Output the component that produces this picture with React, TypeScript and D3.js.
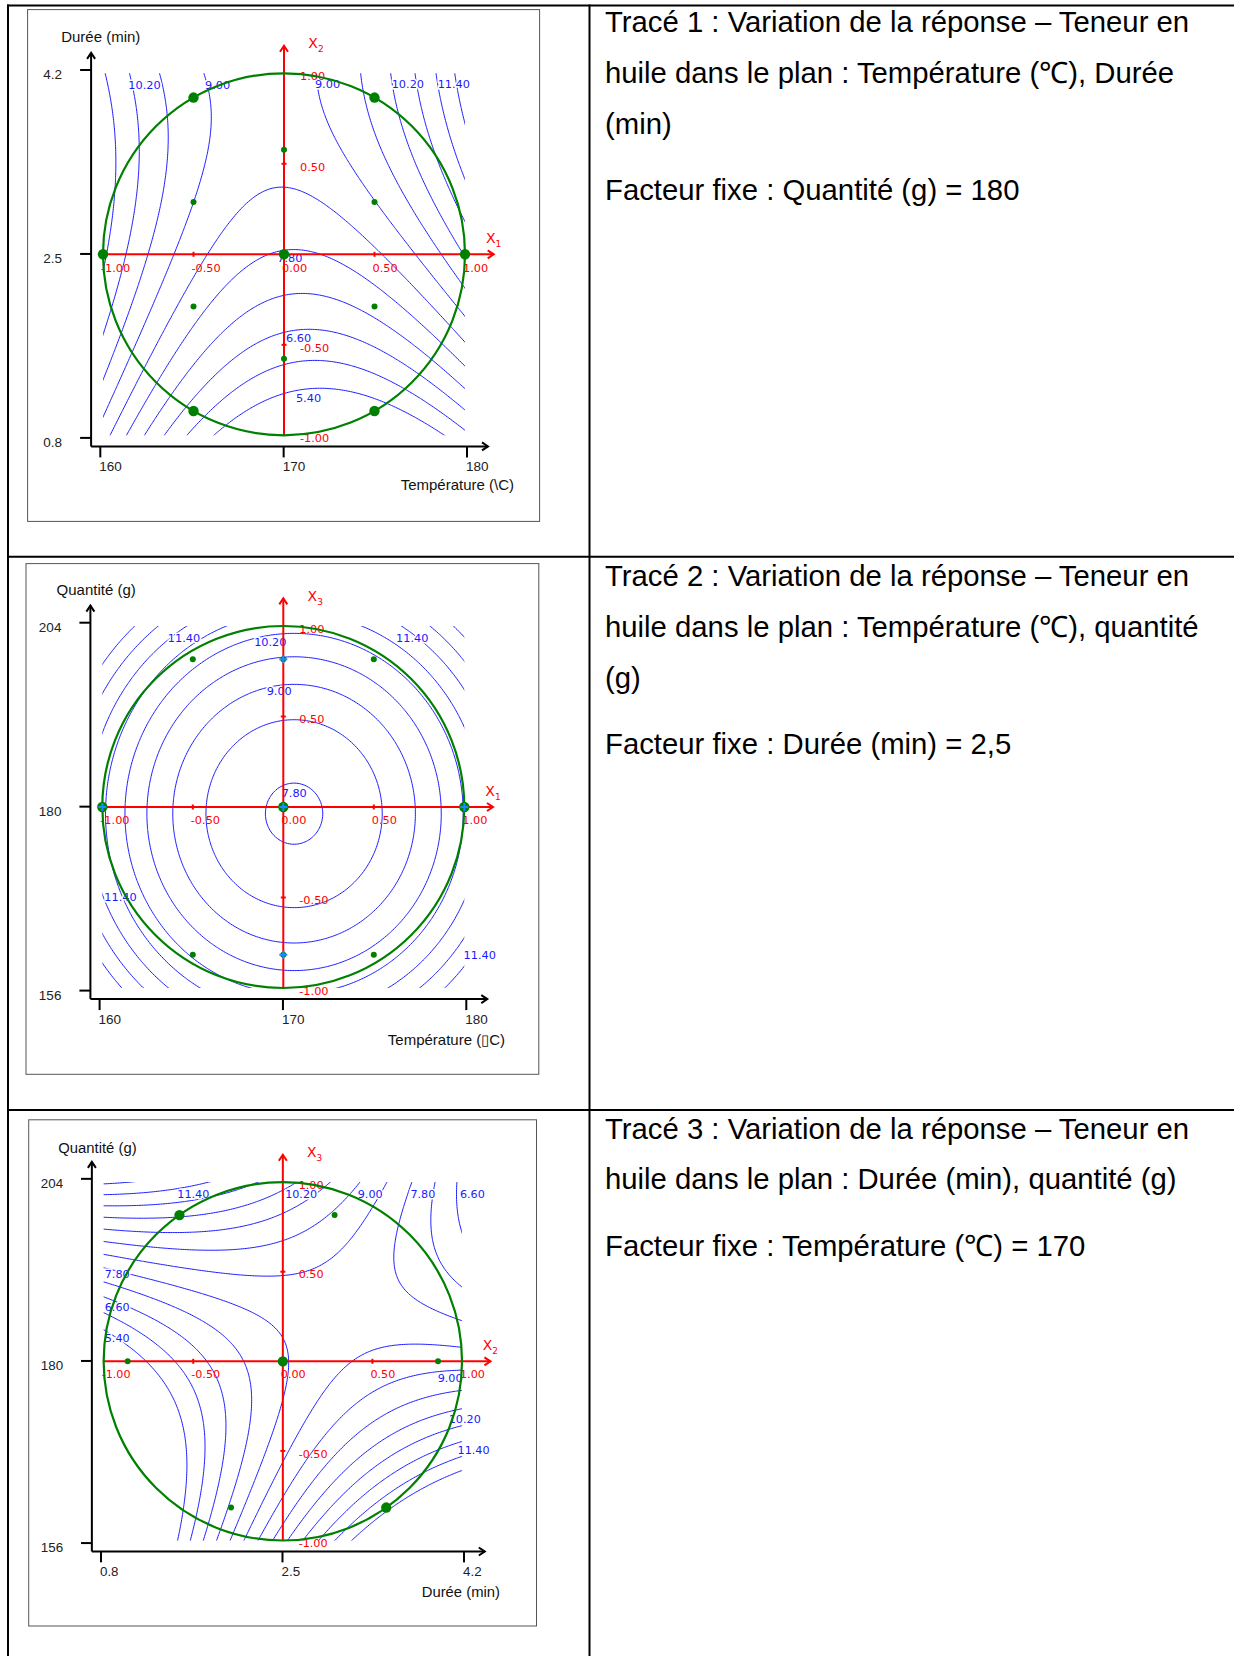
import React from "react";
import * as d3 from "d3";

// Fitted quadratic response-surface model, coded variables
// X1 = Température, X2 = Durée, X3 = Quantité (coefficients)
const coefficientTerms = ["b0", "b1", "b2", "b3", "b11", "b22", "b33", "b12", "b13", "b23"];
const coefficientValues = [7.74, -0.31, 2.19, 0.16, 2.83, -1.15, 2.49, 1.08, 0.0, -5.0];

const contourLevels = [5.4, 6.0, 6.6, 7.2, 7.8, 8.4, 9.0, 9.6, 10.2, 10.8, 11.4, 12.0, 12.6];

const codedAxisValues = [-1, -0.5, 0, 0.5, 1];
const codedAxisLabels = ["-1.00", "-0.50", "0.00", "0.50", "1.00"];

const temperatureTicks = [160, 170, 180];
const dureeTicks = [0.8, 2.5, 4.2];
const quantiteTicks = [156, 180, 204];

// design points [coded horizontal, coded vertical]
const plot1PointsInPlane = [[-1, 0], [0, 0], [1, 0], [-0.5, 0.866], [0.5, 0.866], [-0.5, -0.866], [0.5, -0.866]];
const plot1PointsProjected = [[0, 0.577], [0, -0.577], [-0.5, 0.289], [0.5, 0.289], [-0.5, -0.289], [0.5, -0.289]];
const plot2PointsInPlane = [[-1, 0], [0, 0], [1, 0]];
const plot2PointsProjected = [[-0.5, 0.816], [0, 0.816], [0.5, 0.816], [-0.5, -0.816], [0, -0.816], [0.5, -0.816]];
const plot2CrossPoints = [[-1, 0], [0, 0], [1, 0], [0, 0.816], [0, -0.816]];
const plot3PointsInPlane = [[-0.577, 0.816], [0, 0], [0.577, -0.816]];
const plot3PointsProjected = [[-0.866, 0], [0.866, 0], [0.289, 0.816], [-0.289, -0.816]];

// contour labels: [text, coded horizontal, coded vertical]
const plot1Labels: [string, number, number][] = [
  ["10.20", -0.86, 0.914], ["9.00", -0.436, 0.914], ["9.00", 0.171, 0.918],
  ["10.20", 0.595, 0.918], ["11.40", 0.849, 0.918], ["7.80", -0.037, -0.041],
  ["6.60", 0.011, -0.487], ["5.40", 0.066, -0.815],
];
const plot2Labels: [string, number, number][] = [
  ["11.40", -0.638, 0.911], ["10.20", -0.161, 0.889], ["11.40", 0.623, 0.911],
  ["9.00", -0.092, 0.617], ["7.80", -0.009, 0.057], ["11.40", -0.989, -0.519],
  ["11.40", 0.996, -0.842],
];
const plot3Labels: [string, number, number][] = [
  ["11.40", -0.589, 0.909], ["10.20", 0.013, 0.909], ["9.00", 0.418, 0.909],
  ["7.80", 0.712, 0.909], ["6.60", 0.988, 0.909], ["7.80", -0.994, 0.463],
  ["6.60", -0.994, 0.283], ["5.40", -0.994, 0.11], ["9.00", 0.864, -0.113],
  ["10.20", 0.926, -0.345], ["11.40", 0.975, -0.518],
];

const row1Text = [
  "Tracé 1 : Variation de la réponse – Teneur en",
  "huile dans le plan : Température (℃), Durée",
  "(min)",
  "Facteur fixe : Quantité (g) = 180",
];
const row2Text = [
  "Tracé 2 : Variation de la réponse – Teneur en",
  "huile dans le plan : Température (℃), quantité",
  "(g)",
  "Facteur fixe : Durée (min) = 2,5",
];
const row3Text = [
  "Tracé 3 : Variation de la réponse – Teneur en",
  "huile dans le plan : Durée (min), quantité (g)",
  "Facteur fixe : Température (℃) = 170",
];

function coef(name: string) {
  return coefficientValues[coefficientTerms.indexOf(name)];
}
function response(x: number[]) {
  const [x1, x2, x3] = x;
  return (
    coef("b0") + coef("b1") * x1 + coef("b2") * x2 + coef("b3") * x3 +
    coef("b11") * x1 * x1 + coef("b22") * x2 * x2 + coef("b33") * x3 * x3 +
    coef("b12") * x1 * x2 + coef("b13") * x1 * x3 + coef("b23") * x2 * x3
  );
}

// layout (unscaled, relative to panel origin)
const L = {
  yAxisX: 63.5, yAxisTop: 43.3, xAxisY: 436.8, xAxisRight: 460.4,
  cx: 256.4, cy: 244.7, R: 181,
  xTickLo: 72.7, xTickHi: 439.4, yTickHi: 60.4, yTickLo: 428.3,
};

const BLUE = "#1a1aff";
const RED = "#ff0000";
const GREEN = "#008000";

type PanelCfg = {
  id: string;
  frame: [number, number, number, number];
  origin: [number, number];
  s: number;
  hVar: number;
  vVar: number;
  xDomain: [number, number];
  xTicks: number[];
  yDomain: [number, number];
  yTicks: number[];
  xTitle: string;
  yTitle: string;
  xTitleRight: number;
  xTitleBase: number;
  yTitleLeft: number;
  yTitleBase: number;
  labels: [string, number, number][];
  bigPts: number[][];
  smallPts: number[][];
  crossPts: number[][];
};

function Panel({ cfg }: { cfg: PanelCfg }) {
  const { s } = cfg;
  const X = (v: number) => cfg.origin[0] + s * v;
  const Y = (v: number) => cfg.origin[1] + s * v;
  const cx = X(L.cx), cy = Y(L.cy), R = s * L.R;
  const cu = d3.scaleLinear().domain([-1, 1]).range([cx - R, cx + R]);
  const cv = d3.scaleLinear().domain([-1, 1]).range([cy + R, cy - R]);
  const rx = d3.scaleLinear().domain(cfg.xDomain).range([X(L.xTickLo), X(L.xTickHi)]);
  const ry = d3.scaleLinear().domain(cfg.yDomain).range([Y(L.yTickLo), Y(L.yTickHi)]);

  const N = 221, EXT = 1.05;
  const step = (2 * EXT) / (N - 1);
  const values = new Array(N * N);
  for (let j = 0; j < N; j++) {
    for (let i = 0; i < N; i++) {
      const c = [0, 0, 0];
      c[cfg.hVar] = -EXT + i * step;
      c[cfg.vVar] = EXT - j * step;
      values[j * N + i] = response(c);
    }
  }
  const polys = d3.contours().size([N, N]).thresholds(contourLevels)(values);
  const gx = (g: number) => cu(-EXT + g * step);
  const gy = (g: number) => cv(EXT - g * step);
  const paths = polys.map((mp) =>
    mp.coordinates
      .map((poly) =>
        poly
          .map((ring) => "M" + ring.map((p) => `${gx(p[0]).toFixed(2)},${gy(p[1]).toFixed(2)}`).join("L"))
          .join("")
      )
      .join("")
  );

  const yAx = X(L.yAxisX), xAy = Y(L.xAxisY);
  const tickFont = { fontFamily: "Liberation Sans, Arial, sans-serif", fontSize: 13.5 * s, fill: "#222" };
  const titleFont = { fontFamily: "Liberation Sans, Arial, sans-serif", fontSize: 15 * s, fill: "#111" };
  const blueFont = { fontFamily: "DejaVu Sans, Verdana, sans-serif", fontSize: 11.3 * s };
  const redFont = { fontFamily: "DejaVu Sans, Verdana, sans-serif", fontSize: 11.3 * s };
  const hTip = cx + s * 209.7, vTip = cy - s * 208.6;
  const hName = ["1", "2", "3"][cfg.hVar];
  const vName = ["1", "2", "3"][cfg.vVar];

  return (
    <g>
      <rect x={cfg.frame[0]} y={cfg.frame[1]} width={cfg.frame[2]} height={cfg.frame[3]} fill="#fff" stroke="#555" strokeWidth={1} />
      <defs>
        <clipPath id={`clip-${cfg.id}`}>
          <rect x={cx - R} y={cy - R} width={2 * R} height={2 * R} />
        </clipPath>
      </defs>
      <g clipPath={`url(#clip-${cfg.id})`}>
        {paths.map((d, k) => (
          <path key={k} d={d} fill="none" stroke={BLUE} strokeWidth={1} />
        ))}
      </g>
      {cfg.labels.map(([t, u, v], k) => (
        <text key={k} x={cu(u)} y={cv(v)} {...blueFont} fill={BLUE} stroke="#fff" strokeWidth={3} paintOrder="stroke">
          {t}
        </text>
      ))}

      {/* black axes */}
      <g stroke="#000" strokeWidth={2} fill="none">
        <line x1={yAx} y1={xAy} x2={yAx} y2={Y(L.yAxisTop)} />
        <path d={`M${yAx - 4},${Y(L.yAxisTop) + 6}L${yAx},${Y(L.yAxisTop)}L${yAx + 4},${Y(L.yAxisTop) + 6}`} />
        <line x1={yAx} y1={xAy} x2={X(L.xAxisRight)} y2={xAy} />
        <path d={`M${X(L.xAxisRight) - 6},${xAy - 4}L${X(L.xAxisRight)},${xAy}L${X(L.xAxisRight) - 6},${xAy + 4}`} />
        {cfg.yTicks.map((t) => (
          <line key={t} x1={yAx - 11 * s} y1={ry(t)} x2={yAx} y2={ry(t)} />
        ))}
        {cfg.xTicks.map((t) => (
          <line key={t} x1={rx(t)} y1={xAy} x2={rx(t)} y2={xAy + 11 * s} />
        ))}
      </g>
      {cfg.yTicks.map((t) => (
        <text key={t} x={X(L.yAxisX - 29)} y={ry(t) + 9 * s} textAnchor="end" {...tickFont}>
          {String(t)}
        </text>
      ))}
      {cfg.xTicks.map((t) => (
        <text key={t} x={rx(t) - 1} y={Y(L.xAxisY + 25)} {...tickFont}>
          {String(t)}
        </text>
      ))}
      <text x={X(cfg.xTitleRight)} y={Y(cfg.xTitleBase)} textAnchor="end" {...titleFont}>
        {cfg.xTitle}
      </text>
      <text x={X(cfg.yTitleLeft)} y={Y(cfg.yTitleBase)} {...titleFont}>
        {cfg.yTitle}
      </text>

      {/* red coded axes */}
      <g stroke={RED} strokeWidth={2} fill="none">
        <line x1={cu(-1)} y1={cy} x2={hTip} y2={cy} />
        <path d={`M${hTip - 6},${cy - 4}L${hTip},${cy}L${hTip - 6},${cy + 4}`} />
        <line x1={cx} y1={cv(-1)} x2={cx} y2={vTip} />
        <path d={`M${cx - 4},${vTip + 6}L${cx},${vTip}L${cx + 4},${vTip + 6}`} />
        {[-0.5, 0.5].map((t) => (
          <line key={"h" + t} x1={cu(t)} y1={cy - 2.5} x2={cu(t)} y2={cy + 2.5} />
        ))}
        {[-0.5, 0.5].map((t) => (
          <line key={"v" + t} x1={cx - 2.5} y1={cv(t)} x2={cx + 2.5} y2={cv(t)} />
        ))}
      </g>
      {codedAxisValues.map((t, k) => (
        <text key={"hl" + k} x={cu(t) - 2} y={cy + 17.3 * s} {...redFont} fill={RED}>
          {codedAxisLabels[k]}
        </text>
      ))}
      {codedAxisValues.map((t, k) =>
        t === 0 ? null : (
          <text key={"vl" + k} x={cx + 16 * s} y={cv(t) + 6.8 * s} {...redFont} fill={RED}>
            {codedAxisLabels[k]}
          </text>
        )
      )}
      <text x={cx + 202 * s} y={cy - 11.3 * s} fontFamily="DejaVu Sans, sans-serif" fontSize={14 * s} fill={RED}>
        X<tspan fontSize={9 * s} dy={4}>{hName}</tspan>
      </text>
      <text x={cx + 24.3 * s} y={cy - 206 * s} fontFamily="DejaVu Sans, sans-serif" fontSize={14 * s} fill={RED}>
        X<tspan fontSize={9 * s} dy={4}>{vName}</tspan>
      </text>

      {/* experimental domain and design points */}
      <circle cx={cx} cy={cy} r={R} fill="none" stroke={GREEN} strokeWidth={2.2} />
      {cfg.bigPts.map((p, k) => (
        <circle key={"b" + k} cx={cu(p[0])} cy={cv(p[1])} r={5.2 * s} fill={GREEN} />
      ))}
      {cfg.smallPts.map((p, k) => (
        <circle key={"s" + k} cx={cu(p[0])} cy={cv(p[1])} r={3 * s} fill={GREEN} />
      ))}
      {cfg.crossPts.map((p, k) => (
        <path
          key={"c" + k}
          d={`M${cu(p[0]) - 4},${cv(p[1])}L${cu(p[0]) + 4},${cv(p[1])}M${cu(p[0])},${cv(p[1]) - 4}L${cu(p[0])},${cv(p[1]) + 4}`}
          stroke="#1a8cff"
          strokeWidth={2}
        />
      ))}
    </g>
  );
}

const panels: PanelCfg[] = [
  {
    id: "p1", frame: [27.6, 9.6, 512, 511.8], origin: [27.6, 9.6], s: 1, hVar: 0, vVar: 1,
    xDomain: [160, 180], xTicks: temperatureTicks, yDomain: [0.8, 4.2], yTicks: dureeTicks,
    xTitle: "Température (\\C)", yTitle: "Durée (min)",
    xTitleRight: 486.4, xTitleBase: 480.4, yTitleLeft: 33.6, yTitleBase: 32.5,
    labels: plot1Labels, bigPts: plot1PointsInPlane, smallPts: plot1PointsProjected, crossPts: [],
  },
  {
    id: "p2", frame: [26, 563.6, 512.8, 510.7], origin: [26.9, 562.3], s: 1, hVar: 0, vVar: 2,
    xDomain: [160, 180], xTicks: temperatureTicks, yDomain: [156, 204], yTicks: quantiteTicks,
    xTitle: "Température (\u25AFC)", yTitle: "Quantité (g)",
    xTitleRight: 478.1, xTitleBase: 482.3, yTitleLeft: 29.7, yTitleBase: 32.3,
    labels: plot2Labels, bigPts: plot2PointsInPlane, smallPts: plot2PointsProjected, crossPts: plot2CrossPoints,
  },
  {
    id: "p3", frame: [28.7, 1119.8, 507.8, 506.2], origin: [29.0, 1119.05], s: 0.99, hVar: 1, vVar: 2,
    xDomain: [0.8, 4.2], xTicks: dureeTicks, yDomain: [156, 204], yTicks: quantiteTicks,
    xTitle: "Durée (min)", yTitle: "Quantité (g)",
    xTitleRight: 475.8, xTitleBase: 482.7, yTitleLeft: 29.5, yTitleBase: 34.4,
    labels: plot3Labels, bigPts: plot3PointsInPlane, smallPts: plot3PointsProjected, crossPts: [],
  },
];

const textRows = [
  { lines: row1Text, baselines: [32.1, 82.8, 133.5, 200.1] },
  { lines: row2Text, baselines: [586.1, 636.8, 687.5, 754.1] },
  { lines: row3Text, baselines: [1138.7, 1189.4, 1255.9] },
];

export default function App() {
  return (
    <svg
      width={1234}
      height={1656}
      viewBox="0 0 1234 1656"
      style={{ position: "absolute", left: 0, top: 0, background: "#fff" }}
    >
      <rect x={0} y={0} width={1234} height={1656} fill="#fff" />
      {panels.map((p) => (
        <Panel key={p.id} cfg={p} />
      ))}
      {textRows.map((row, r) =>
        row.lines.map((line, k) => (
          <text
            key={r + "-" + k}
            x={605}
            y={row.baselines[k]}
            fontFamily="Liberation Sans, Arial, sans-serif"
            fontSize={29.3}
            fill="#000"
          >
            {line}
          </text>
        ))
      )}
      <g stroke="#000" strokeWidth={2}>
        <line x1={8} y1={4.5} x2={8} y2={1656} />
        <line x1={589.5} y1={4.5} x2={589.5} y2={1656} />
        <line x1={7} y1={5.5} x2={1234} y2={5.5} />
        <line x1={7} y1={556.7} x2={1234} y2={556.7} />
        <line x1={7} y1={1110} x2={1234} y2={1110} />
      </g>
    </svg>
  );
}
